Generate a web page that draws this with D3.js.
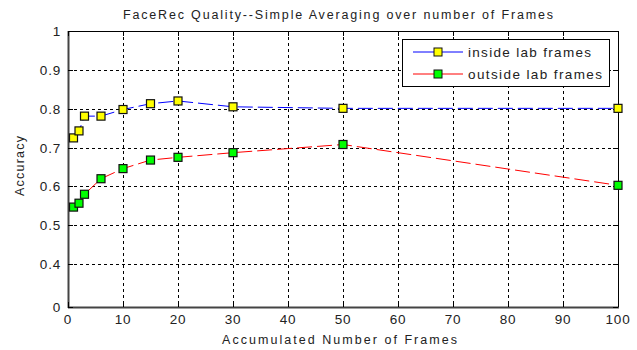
<!DOCTYPE html>
<html>
<head>
<meta charset="utf-8">
<script src="https://cdn.jsdelivr.net/npm/d3@7"></script>
<style>
  body { margin: 0; background: #fff; }
  text { font-family: "Liberation Sans", Arial, sans-serif; fill: #222; }
</style>
</head>
<body>
<script>
// data
const frames = [1, 2, 3, 6, 10, 15, 20, 30, 50, 100];
const insideLab = [0.725, 0.743, 0.781, 0.781, 0.798, 0.813, 0.820, 0.805, 0.801, 0.801];
const outsideLab = [0.547, 0.557, 0.580, 0.620, 0.646, 0.668, 0.675, 0.687, 0.708, 0.603];
const xTicks = [0, 10, 20, 30, 40, 50, 60, 70, 80, 90, 100];
const yTicks = [0.29, 0.4, 0.5, 0.6, 0.7, 0.8, 0.9, 1];
const yTickLabels = ["0", "0.4", "0.5", "0.6", "0.7", "0.8", "0.9", "1"];
const seriesNames = ["inside lab frames", "outside lab frames"];

const width = 637, height = 350;
const margin = {top: 31, right: 19, bottom: 43, left: 68};

const svg = d3.select("body").append("svg")
    .attr("width", width)
    .attr("height", height);

const x = d3.scaleLinear().domain([0, 100]).range([margin.left, width - margin.right]);
const y = d3.scaleLinear().domain([0.29, 1]).range([height - margin.bottom, margin.top]);

// grid
const grid = svg.append("g")
    .attr("stroke", "#000")
    .attr("stroke-width", 1)
    .attr("stroke-dasharray", "3,3");
grid.selectAll("line.vx")
    .data(xTicks.slice(1, -1))
    .join("line")
        .attr("x1", d => Math.round(x(d)) + 0.5).attr("x2", d => Math.round(x(d)) + 0.5)
        .attr("y1", y(1)).attr("y2", y(0.29));
grid.selectAll("line.hy")
    .data(yTicks.slice(1, -1))
    .join("line")
        .attr("y1", d => Math.round(y(d)) + 0.5).attr("y2", d => Math.round(y(d)) + 0.5)
        .attr("x1", x(0)).attr("x2", x(100));

// series lines
const line = d3.line()
    .x(d => x(d[0]))
    .y(d => y(d[1]));

const series = [
  {name: seriesNames[0], values: insideLab, stroke: "#0000ff", fill: "#ffff00"},
  {name: seriesNames[1], values: outsideLab, stroke: "#ff0000", fill: "#00ff00"}
];

series.forEach(s => {
  svg.append("path")
      .datum(frames.map((f, i) => [f, s.values[i]]))
      .attr("fill", "none")
      .attr("stroke", s.stroke)
      .attr("stroke-width", 1)
      .attr("stroke-dasharray", "15,5")
      .attr("d", line);
});

// axes box
const box = svg.append("g");
box.append("rect")
    .attr("x", x(0) + 0.5).attr("y", y(1) + 0.5)
    .attr("width", x(100) - x(0)).attr("height", y(0.29) - y(1))
    .attr("fill", "none")
    .attr("stroke", "#000")
    .attr("stroke-width", 1);
box.append("line")
    .attr("x1", x(0) + 0.5).attr("x2", x(0) + 0.5)
    .attr("y1", y(1)).attr("y2", y(0.29) + 1)
    .attr("stroke", "#444").attr("stroke-width", 2);
box.append("line")
    .attr("x1", x(0)).attr("x2", x(100) + 1)
    .attr("y1", y(0.29) + 0.5).attr("y2", y(0.29) + 0.5)
    .attr("stroke", "#444").attr("stroke-width", 2);

// inward ticks
const tickLen = 5;
xTicks.forEach(t => {
  const px = Math.round(x(t)) + 0.5;
  box.append("line").attr("x1", px).attr("x2", px)
      .attr("y1", y(0.29)).attr("y2", y(0.29) - tickLen).attr("stroke", "#000");
  box.append("line").attr("x1", px).attr("x2", px)
      .attr("y1", y(1)).attr("y2", y(1) + tickLen).attr("stroke", "#000");
});
yTicks.forEach(t => {
  const py = Math.round(y(t)) + 0.5;
  box.append("line").attr("y1", py).attr("y2", py)
      .attr("x1", x(0)).attr("x2", x(0) + tickLen).attr("stroke", "#000");
  box.append("line").attr("y1", py).attr("y2", py)
      .attr("x1", x(100)).attr("x2", x(100) - tickLen).attr("stroke", "#000");
});

// tick labels
svg.append("g").selectAll("text")
    .data(xTicks)
    .join("text")
        .attr("x", d => x(d))
        .attr("y", y(0.29) + 17)
        .attr("text-anchor", "middle")
        .attr("font-size", 13.5)
        .attr("letter-spacing", 0.8)
        .text(d => d);
svg.append("g").selectAll("text")
    .data(yTicks)
    .join("text")
        .attr("x", x(0) - 7)
        .attr("y", d => y(d) + 5)
        .attr("text-anchor", "end")
        .attr("font-size", 13.5)
        .attr("letter-spacing", 0.8)
        .text((d, i) => yTickLabels[i]);

// markers
series.forEach(s => {
  svg.append("g").selectAll("rect")
      .data(frames.map((f, i) => [f, s.values[i]]))
      .join("rect")
          .attr("x", d => x(d[0]) - 4)
          .attr("y", d => y(d[1]) - 4)
          .attr("width", 8).attr("height", 8)
          .attr("fill", s.fill)
          .attr("stroke", "#111")
          .attr("stroke-width", 1.2);
});

// titles
svg.append("text")
    .attr("x", 123).attr("y", 19)
    .attr("font-size", 12.5)
    .attr("textLength", 430).attr("lengthAdjust", "spacing")
    .text("FaceRec Quality--Simple Averaging over number of Frames");
svg.append("text")
    .attr("x", 222).attr("y", 344)
    .attr("font-size", 12.5)
    .attr("textLength", 235).attr("lengthAdjust", "spacing")
    .text("Accumulated Number of Frames");
svg.append("text")
    .attr("transform", "translate(24,196) rotate(-90)")
    .attr("font-size", 12.5)
    .attr("textLength", 60).attr("lengthAdjust", "spacing")
    .text("Accuracy");

// legend
const legend = svg.append("g");
legend.append("rect")
    .attr("x", 402.5).attr("y", 39.5)
    .attr("width", 207).attr("height", 47)
    .attr("fill", "#fff").attr("stroke", "#000");
series.forEach((s, i) => {
  const ly = 52 + i * 22;
  legend.append("line")
      .attr("x1", 413).attr("x2", 463)
      .attr("y1", ly).attr("y2", ly)
      .attr("stroke", s.stroke);
  legend.append("rect")
      .attr("x", 434).attr("y", ly - 4)
      .attr("width", 8).attr("height", 8)
      .attr("fill", s.fill).attr("stroke", "#111");
  legend.append("text")
      .attr("x", 468).attr("y", ly + 5)
      .attr("font-size", 13.5)
      .attr("textLength", i === 0 ? 123 : 134).attr("lengthAdjust", "spacing")
      .text(s.name);
});
</script>
</body>
</html>
